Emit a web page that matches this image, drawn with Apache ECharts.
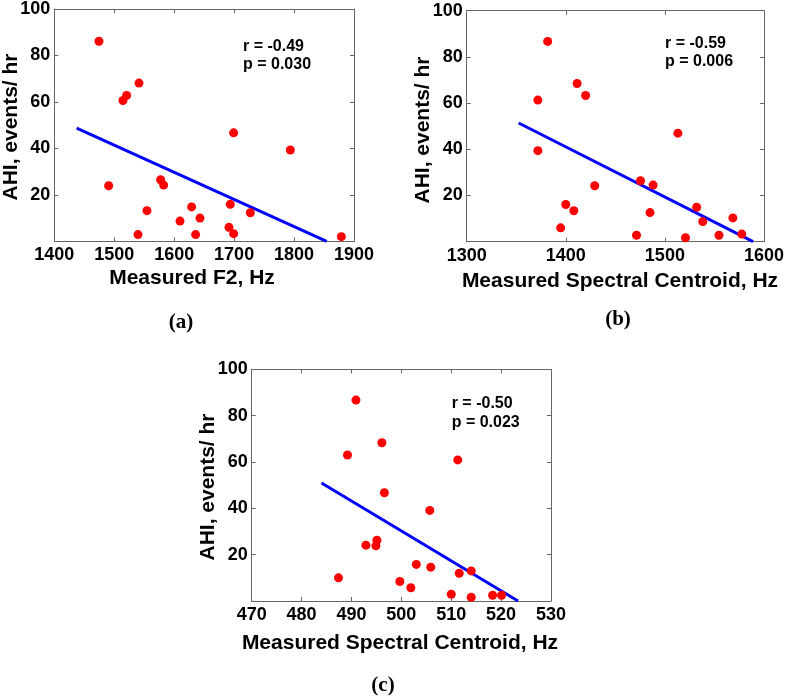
<!DOCTYPE html>
<html><head><meta charset="utf-8">
<script src="https://cdn.jsdelivr.net/npm/echarts@6/dist/echarts.min.js"></script>
<style>html,body{margin:0;padding:0;background:#fff}#c{width:787px;height:698px}</style>
</head><body><div id="c"></div>
<script>
// ---- data ----
const yTicks = [0, 20, 40, 60, 80, 100];
const xTicksA = [1400, 1500, 1600, 1700, 1800, 1900];
const xTicksB = [1300, 1400, 1500, 1600];
const xTicksC = [470, 480, 490, 500, 510, 520, 530];

const f2A  = [1474.5,1514.6,1520.7,1541.3,1490.7,1539.6,1554.6,1577.4,1582.4,1609.7,1629.1,1635.8,1643.0,1691.4,1693.6,1699.2,1699.2,1727.0,1793.8,1878.9];
const ahiA = [86.1,60.6,62.8,68.1,23.9,2.9,13.2,26.5,24.2,8.7,14.8,2.9,10.0,6.0,15.9,3.3,46.7,12.3,39.3,2.0];

const scB  = [1381.7,1371.8,1371.8,1411.4,1420.0,1429.2,1400.0,1408.1,1394.8,1471.4,1475.4,1488.1,1485.0,1513.1,1520.8,1532.1,1538.2,1554.6,1568.6,1577.6];
const ahiB = [86.7,61.3,39.4,68.5,63.3,24.2,16.1,13.4,6.0,2.8,26.4,24.5,12.6,47.0,1.7,14.9,8.7,2.8,10.3,3.3];

const scC  = [490.9,489.2,496.1,496.6,511.3,505.7,492.9,495.1,494.9,487.4,499.7,501.9,503.0,505.9,510.0,511.6,514.0,514.0,518.3,520.1];
const ahiC = [86.7,63.0,68.3,46.7,60.9,39.1,24.1,26.2,23.8,10.0,8.4,5.7,15.8,14.6,2.9,12.0,13.0,1.6,2.5,2.5];

const fitA = [[1437.3, 48.7], [1854.5, 0]];
const fitB = [[1352.4, 51.4], [1589.0, 0]];
const fitC = [[484.0, 50.9], [523.4, 0]];

const statsA = ['r = -0.49', 'p = 0.030'];
const statsB = ['r = -0.59', 'p = 0.006'];
const statsC = ['r = -0.50', 'p = 0.023'];

const yName = 'AHI, events/ hr';
const xNames = ['Measured F2, Hz', 'Measured Spectral Centroid, Hz', 'Measured Spectral Centroid, Hz'];
const panelLabels = ['(a)', '(b)', '(c)'];

// ---- layout ----
const grids = [
  {left: 54.3, top: 8.3, width: 299.7, height: 233},
  {left: 466.7, top: 10.7, width: 299.3, height: 231},
  {left: 251.7, top: 369.3, width: 299.3, height: 231.7}
];
const xTickSets = [xTicksA, xTicksB, xTicksC];
const FRAME = '#666';
const labelFont = {color: '#000', fontWeight: 'bold', fontSize: 18, fontFamily: 'Liberation Sans, Arial, sans-serif'};

const xAxes = [], yAxes = [];
grids.forEach((g, i) => {
  const t = xTickSets[i];
  ['bottom', 'top'].forEach(pos => {
    xAxes.push({
      type: 'value', gridIndex: i, position: pos,
      min: t[0], max: t[t.length - 1], interval: t[1] - t[0],
      axisLine: {show: true, onZero: false, lineStyle: {color: FRAME, width: 1}},
      axisTick: {show: true, inside: true, length: 4, lineStyle: {color: FRAME}},
      splitLine: {show: false},
      axisLabel: pos === 'bottom' ? Object.assign({show: true, margin: 5, hideOverlap: false, showMinLabel: true, showMaxLabel: true, formatter: v => String(v)}, labelFont) : {show: false}
    });
  });
  ['left', 'right'].forEach(pos => {
    yAxes.push({
      type: 'value', gridIndex: i, position: pos,
      min: yTicks[0], max: yTicks[yTicks.length - 1], interval: yTicks[1] - yTicks[0],
      axisLine: {show: true, onZero: false, lineStyle: {color: FRAME, width: 1}},
      axisTick: {show: true, inside: true, length: 4, lineStyle: {color: FRAME}},
      splitLine: {show: false},
      axisLabel: pos === 'left' ? Object.assign({show: true, margin: 4, formatter: v => v === 0 ? '' : String(v)}, labelFont) : {show: false}
    });
  });
});

const pts = (xs, ys) => xs.map((x, k) => [x, ys[k]]);
const scatterData = [pts(f2A, ahiA), pts(scB, ahiB), pts(scC, ahiC)];
const fits = [fitA, fitB, fitC];
const series = [];
scatterData.forEach((d, i) => {
  series.push({type: 'scatter', xAxisIndex: 2 * i, yAxisIndex: 2 * i, data: d, symbol: 'circle', symbolSize: 9,
    itemStyle: {color: '#ff0000', opacity: 1}, silent: true, z: 3});
  series.push({type: 'line', xAxisIndex: 2 * i, yAxisIndex: 2 * i, data: fits[i], showSymbol: false, symbol: 'none',
    lineStyle: {color: '#0000ff', width: 3}, silent: true, z: 2});
});

const stats = [statsA, statsB, statsC];
const statPos = [[243, 47, 65], [665, 44, 62], [451.7, 404, 422.7]];
const nameFont = 'bold 21px "Liberation Sans", Arial, sans-serif';
const statFont = 'bold 16px "Liberation Sans", Arial, sans-serif';
const graphic = [];
stats.forEach((s, i) => {
  const p = statPos[i];
  graphic.push({type: 'text', x: p[0], y: p[1], style: {text: s[0], font: statFont, fill: '#000', textAlign: 'left', textVerticalAlign: 'middle'}});
  graphic.push({type: 'text', x: p[0], y: p[2], style: {text: s[1], font: statFont, fill: '#000', textAlign: 'left', textVerticalAlign: 'middle'}});
});
const xNamePos = [[192, 278], [620, 281], [400, 643]];
xNames.forEach((n, i) => {
  graphic.push({type: 'text', x: xNamePos[i][0], y: xNamePos[i][1], style: {text: n, font: nameFont, fill: '#000', textAlign: 'center', textVerticalAlign: 'middle'}});
});
const yNamePos = [[11, 127], [423, 130], [208, 487]];
yNamePos.forEach(p => {
  graphic.push({type: 'text', x: p[0], y: p[1], rotation: Math.PI / 2, style: {text: yName, font: 'bold 21px "Liberation Sans", Arial, sans-serif', fill: '#000', textAlign: 'center', textVerticalAlign: 'middle'}});
});
const panelPos = [[181, 323], [618, 320], [383, 686]];
panelLabels.forEach((t, i) => {
  graphic.push({type: 'text', x: panelPos[i][0], y: panelPos[i][1], style: {text: t, font: 'bold 21px "Liberation Serif", "Times New Roman", serif', fill: '#000', textAlign: 'center', textVerticalAlign: 'middle'}});
});

const chart = echarts.init(document.getElementById('c'), null, {renderer: 'canvas'});
chart.setOption({
  animation: false,
  backgroundColor: '#fff',
  grid: grids.map(g => Object.assign({containLabel: false, show: false}, g)),
  xAxis: xAxes,
  yAxis: yAxes,
  series: series,
  graphic: graphic
});
</script>
</body></html>
